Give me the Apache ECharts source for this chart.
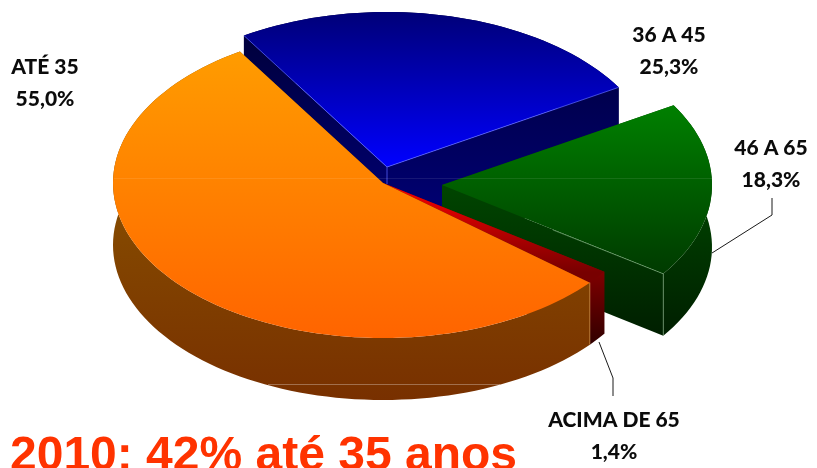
<!DOCTYPE html>
<html>
<head>
<meta charset="utf-8">
<style>html,body{margin:0;padding:0;background:#fff;overflow:hidden}#c{width:817px;height:468px}</style>
<script src="https://cdn.jsdelivr.net/npm/echarts@6/dist/echarts.min.js"></script>
</head>
<body>
<div id="c"></div>
<script>
// Data (clockwise from the blue slice)
const categories = ['36 A 45', '46 A 65', 'ACIMA DE 65', 'ATÉ 35'];
const shares = [25.3, 18.3, 1.4, 55.0];
const headline = '2010: 42% até 35 anos';

// Projection of the tilted pie
const CX = 383, CY = 183, RX = 270, RY = 155, DEPTH = 62, START_DEG = -32;
// Exploded offset of each slice, on screen
const offsets = [[4, -16], [59, 2], [0, 0], [0, 0]];
// Colour ramps: [top face from, top face to, y from, y to]
const topFills = [
  ['#000078', '#0000ff', 12, 167],
  ['#008000', '#003a00', 105, 274],
  ['#ff0000', '#780000', 183, 272],
  ['#ff9c00', '#ff6400', 52, 338]
];
const sideFills = [
  ['#00003c', '#000078', 35, 230],
  ['#004400', '#001e00', 190, 338],
  ['#800000', '#300000', 272, 345],
  ['#864c00', '#783000', 198, 400]
];
const wallEdge = ['rgba(90,100,255,0.75)', 'rgba(150,200,150,0.5)', null, 'rgba(255,200,120,0.5)'];
// Label centres and leader lines
const labelPos = [[669, 35], [771, 148], [614, 420], [45, 67]];
const LINE_GAP = 32;
const leaders = [null, [[712, 253], [772, 215], [772, 198]], [[599, 342], [613, 378], [613, 396]], null];

const rad = d => d * Math.PI / 180;
const grad = c => new echarts.graphic.LinearGradient(0, c[2], 0, c[3], [
  { offset: 0, color: c[0] }, { offset: 1, color: c[1] }
], true);

const total = shares.reduce((a, b) => a + b, 0);
const startAngles = [];
shares.reduce((acc, v, i) => { startAngles[i] = acc; return acc + v / total * 360; }, START_DEG);

function renderSlice(params, api) {
  const i = params.dataIndex;
  const v = api.value(1);
  const a0 = startAngles[i], a1 = a0 + v / total * 360;
  const ax = CX + offsets[i][0], ay = CY + offsets[i][1];
  const pt = (deg) => [ax + RX * Math.sin(rad(deg)), ay - RY * Math.cos(rad(deg))];
  const down = p => [p[0], p[1] + DEPTH];
  const arc = [];
  const n = Math.max(4, Math.ceil((a1 - a0) / 2));
  for (let k = 0; k <= n; k++) arc.push(pt(a0 + (a1 - a0) * k / n));
  const apex = [ax, ay];
  const pStart = arc[0], pEnd = arc[n];
  const side = grad(sideFills[i]);
  const children = [
    { type: 'polygon', shape: { points: [apex, pStart, down(pStart), down(apex)] }, style: { fill: side } },
    { type: 'polygon', shape: { points: [apex, pEnd, down(pEnd), down(apex)] }, style: { fill: side } },
    { type: 'polygon', shape: { points: arc.concat(arc.map(down).reverse()) }, style: { fill: side } },
    { type: 'polygon', shape: { points: [apex].concat(arc) }, style: { fill: grad(topFills[i]) } }
  ];
  const edge = wallEdge[i];
  const seg = (p, q) => ({ type: 'line', shape: { x1: p[0], y1: p[1], x2: q[0], y2: q[1] },
    style: { stroke: edge, lineWidth: 1, fill: null } });
  if (i === 0) children.push(seg(apex, pStart), seg(apex, pEnd), seg(apex, [ax, ay + 17]));
  if (i === 1) children.push(seg([ax + 111, ay + 45], pEnd), seg(pEnd, down(pEnd)));
  if (i === 3) children.push(seg(pStart, down(pStart)));
  return { type: 'group', children };
}

function renderLabel(params, api) {
  const i = params.dataIndex;
  const v = api.value(1);
  const [x, y] = labelPos[i];
  const base = { fill: '#0b0b0b', font: '900 21px Lato, Carlito, sans-serif', align: 'center', verticalAlign: 'middle' };
  const children = [
    { type: 'text', x, y, style: Object.assign({}, base, { text: categories[i] }) },
    { type: 'text', x, y: y + LINE_GAP, style: Object.assign({}, base, { text: v.toFixed(1).replace('.', ',') + '%' }) }
  ];
  if (leaders[i]) {
    children.push({ type: 'polyline', shape: { points: leaders[i] }, style: { stroke: '#1a1a1a', lineWidth: 1, fill: null } });
  }
  return { type: 'group', children };
}

const chart = echarts.init(document.getElementById('c'), null, { renderer: 'canvas' });
const rows = categories.map((c, i) => [c, shares[i]]);
chart.setOption({
  animation: false,
  backgroundColor: '#fff',
  title: {
    text: headline, left: 10, top: 433, padding: 0,
    textStyle: { color: '#ff3300', fontFamily: '"Liberation Sans", Arial, sans-serif', fontWeight: 'bold', fontSize: 48, lineHeight: 48 }
  },
  series: [
    { type: 'custom', coordinateSystem: 'none', renderItem: renderSlice, data: rows, silent: true, encode: { value: 1 }, clip: false },
    { type: 'custom', coordinateSystem: 'none', renderItem: renderLabel, data: rows, silent: true, encode: { value: 1 }, z: 5, clip: false }
  ],
  graphic: [
    { type: 'line', z: 4, silent: true, shape: { x1: 114, y1: 178.5, x2: 712, y2: 178.5 }, style: { stroke: 'rgba(255,255,255,0.09)', lineWidth: 1 } },
    { type: 'line', z: 4, silent: true, shape: { x1: 268, y1: 384.5, x2: 500, y2: 384.5 }, style: { stroke: 'rgba(255,255,255,0.3)', lineWidth: 1 } }
  ]
});
</script>
</body>
</html>
